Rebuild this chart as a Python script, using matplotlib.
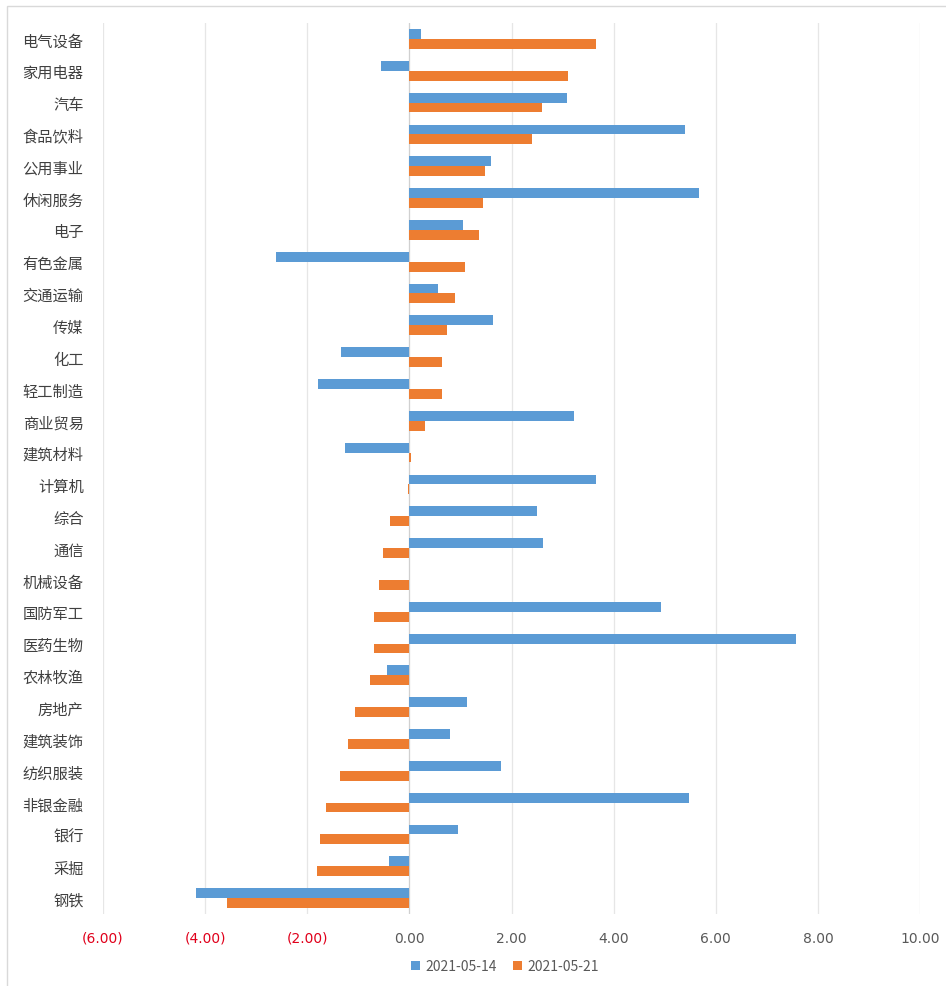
import matplotlib
matplotlib.use("Agg")
import matplotlib.pyplot as plt
import numpy as np
from matplotlib.patches import Rectangle
from matplotlib.ticker import FuncFormatter

plt.rcParams['font.family'] = ['Noto Sans CJK SC', 'DejaVu Sans']

categories = ["电气设备", "家用电器", "汽车", "食品饮料", "公用事业", "休闲服务", "电子",
              "有色金属", "交通运输", "传媒", "化工", "轻工制造", "商业贸易", "建筑材料",
              "计算机", "综合", "通信", "机械设备", "国防军工", "医药生物", "农林牧渔",
              "房地产", "建筑装饰", "纺织服装", "非银金融", "银行", "采掘", "钢铁"]
series_0514 = [0.23, -0.55, 3.08, 5.40, 1.60, 5.68, 1.05,
               -2.62, 0.57, 1.63, -1.33, -1.78, 3.23, -1.27,
               3.65, 2.49, 2.61, -0.01, 4.92, 7.57, -0.43,
               1.12, 0.80, 1.80, 5.47, 0.95, -0.40, -4.17]
series_0521 = [3.65, 3.10, 2.60, 2.40, 1.48, 1.45, 1.37,
               1.08, 0.90, 0.74, 0.63, 0.63, 0.31, 0.03,
               -0.02, -0.38, -0.52, -0.60, -0.70, -0.70, -0.78,
               -1.07, -1.20, -1.35, -1.63, -1.75, -1.80, -3.58]
labels = ["2021-05-14", "2021-05-21"]
x_ticks = [-6, -4, -2, 0, 2, 4, 6, 8, 10]

W, H = 946, 987
fig = plt.figure(figsize=(W / 100, H / 100), dpi=100)
fig.patches.append(Rectangle((7 / W, -0.1), 1.2, 1 - 7 / H + 0.1, transform=fig.transFigure,
                             fill=False, edgecolor="#d9d9d9", linewidth=1.0))

ax = fig.add_axes([103 / W, 1 - 915 / H, (920 - 103) / W, (915 - 24) / H])
n = len(categories)
y = np.arange(n)
h = 0.31
ax.barh(y - h / 2, series_0514, height=h, color="#5B9BD5", label=labels[0], zorder=3)
ax.barh(y + h / 2, series_0521, height=h, color="#ED7D31", label=labels[1], zorder=3)

ax.set_ylim(n - 0.5, -0.5)
ax.set_xlim(-6, 10)
ax.set_yticks(y)
ax.set_yticklabels(categories, fontsize=11, color="#404040")
ax.set_xticks(x_ticks)

def fmt(v, pos):
    if v < 0:
        return "({:.2f})".format(-v)
    return "{:.2f}".format(v)

ax.xaxis.set_major_formatter(FuncFormatter(fmt))
for lab, v in zip(ax.get_xticklabels(), x_ticks):
    lab.set_color("#E0001B" if v < 0 else "#595959")
    lab.set_fontsize(10)
    lab.set_family(["DejaVu Sans"])

ax.tick_params(axis="both", length=0)
ax.tick_params(axis="y", pad=14)
ax.tick_params(axis="x", pad=12)
ax.grid(axis="x", color="#e6e6e6", linewidth=0.9, zorder=0)
for s in ax.spines.values():
    s.set_visible(False)
ax.axvline(0, color="#d0d0d0", linewidth=0.8, zorder=2)

leg = fig.legend(loc="center", bbox_to_anchor=(505 / W, 1 - 967 / H), ncol=2, frameon=False,
                 fontsize=10, handlelength=0.6, handleheight=0.6, handletextpad=0.4,
                 columnspacing=1.2)
for t in leg.get_texts():
    t.set_color("#595959")

fig.savefig("out.png", dpi=100)
